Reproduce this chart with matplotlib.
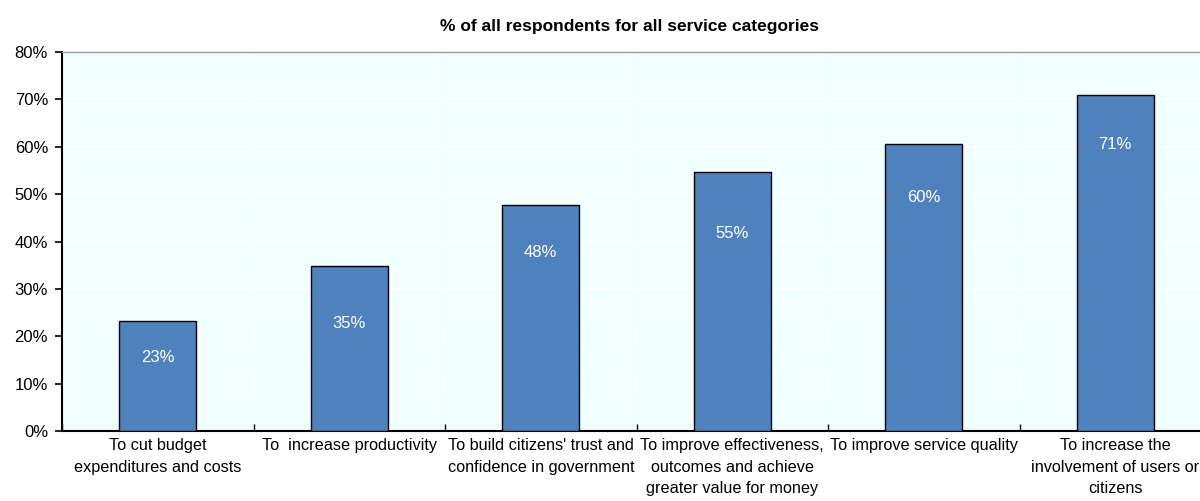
import numpy as np
import matplotlib
matplotlib.use("Agg")
import matplotlib.pyplot as plt
from matplotlib.ticker import MultipleLocator, FuncFormatter

plt.rcParams["font.family"] = ["Liberation Sans", "DejaVu Sans"]

categories = [
    "To cut budget\nexpenditures and costs",
    "To  increase productivity",
    "To build citizens' trust and\nconfidence in government",
    "To improve effectiveness,\noutcomes and achieve\ngreater value for money",
    "To improve service quality",
    "To increase the\ninvolvement of users or\ncitizens",
]
values = [23.2, 34.8, 47.7, 54.7, 60.5, 70.9]
labels = ["23%", "35%", "48%", "55%", "60%", "71%"]
# where the value labels sit inside the bars (data units)
label_y = [15.6, 22.6, 37.6, 41.6, 49.2, 60.4]

fig = plt.figure(figsize=(12, 5.01), dpi=100)
ax = fig.add_axes([62 / 1200, 1 - 431 / 501, 1149 / 1200, 379 / 501])
ax.set_facecolor("#f2ffff")

x = np.arange(len(categories))
ax.bar(x, values, width=0.4, color="#4f81bd", edgecolor="black", linewidth=1, zorder=3)
for xi, yi, lab in zip(x, label_y, labels):
    ax.text(xi, yi, lab, color="white", ha="center", va="center", fontsize=12, zorder=4)

ax.set_xlim(-0.5, len(categories) - 0.5)
ax.set_ylim(0, 80)
ax.yaxis.set_major_locator(MultipleLocator(10))
ax.yaxis.set_major_formatter(FuncFormatter(lambda v, p: f"{v:.0f}%"))

ax.set_xticks(x)
ax.set_xticklabels(categories, fontsize=11.7, linespacing=1.55, va="top")
ax.tick_params(axis="x", which="major", length=0, pad=5)
ax.set_xticks(np.arange(-0.5, len(categories), 1), minor=True)
ax.tick_params(axis="x", which="minor", direction="in", length=5, width=1)
ax.tick_params(axis="y", labelsize=12, length=5, width=1.2, pad=5)

ax.grid(axis="y", color="white", linewidth=1.2, zorder=0)
ax.grid(axis="x", which="minor", color="white", linewidth=1.2, zorder=0)

ax.spines["left"].set_linewidth(1.5)
ax.spines["bottom"].set_linewidth(1.5)
ax.spines["top"].set_color("#999999")
ax.spines["top"].set_linewidth(1)
ax.spines["right"].set_visible(False)

fig.text(630 / 1200, 1 - 27 / 501, "% of all respondents for all service categories",
         ha="center", va="center", fontsize=12.5, fontweight="bold")

fig.savefig("out.png", dpi=100)
